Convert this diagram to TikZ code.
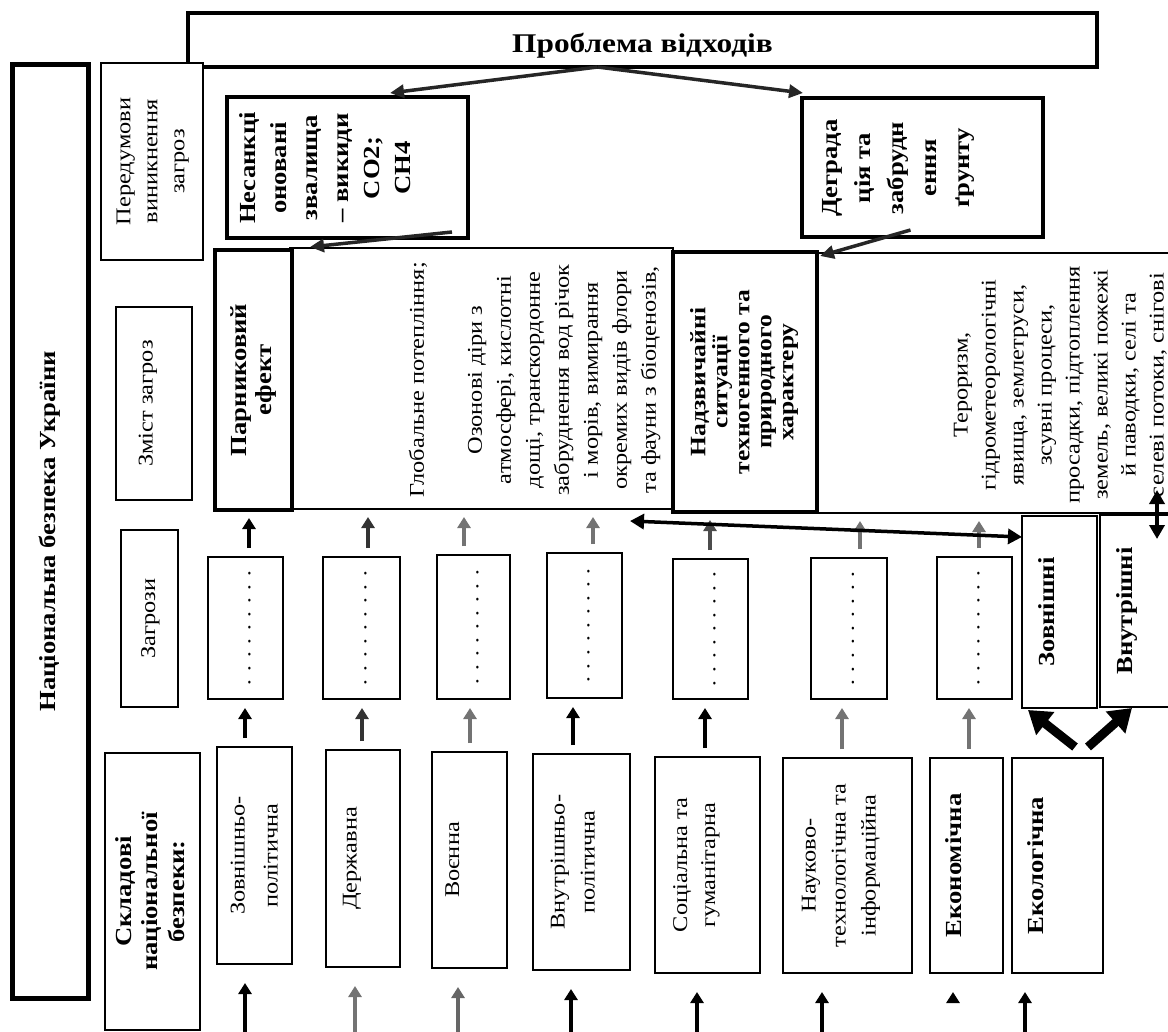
\documentclass[tikz,border=0pt]{standalone}
\usepackage{fontspec}
\setmainfont[FakeStretch=1.16]{Liberation Serif}
\usetikzlibrary{arrows.meta,calc}
\newcommand{\vt}[1]{\rotatebox{90}{\begin{tabular}{@{}c@{}}#1\end{tabular}}}
\newcommand{\pad}[1]{\rule{#1}{0pt}}
\begin{document}
\begin{tikzpicture}[x=1pt,y=-1pt,
  every node/.style={inner sep=0pt, outer sep=0pt},
  sz/.style 2 args={minimum width=#1pt, minimum height=#2pt},
  thinbox/.style={draw=black, line width=1.8pt, fill=white, anchor=north west},
  thickbox/.style={draw=black, line width=4.5pt, fill=white, anchor=north west},
  nf/.style={font=\fontsize{21}{28}\selectfont},
  bf/.style={font=\fontsize{23}{27}\selectfont\bfseries},
  arr/.style={-{Triangle[length=11pt,width=13pt]}, line width=3.5pt},
  conn/.style={-{Triangle[length=14pt,width=13pt]}, line width=3.5pt, draw=black!85},
  bigarr/.style={-{Triangle[length=22pt,width=28pt]}, line width=9pt, draw=black},
  dbl/.style={{Triangle[length=14pt,width=15pt]}-{Triangle[length=14pt,width=15pt]}, line width=3.5pt, draw=black}
]
\useasboundingbox (0,0) rectangle (1168,1032);
\clip (0,0) rectangle (1168,1032);
\fill[white] (0,0) rectangle (1168,1032);

% left column
\node[thickbox, line width=5pt, sz={76}{933}, font=\fontsize{23}{28}\selectfont\bfseries] (nb) at (12,65) {\vt{Національна безпека України}};

% top problem box
\node[thickbox, sz={909}{54}, font=\fontsize{27}{30}\selectfont\bfseries] (prob) at (188,13) {\raisebox{-13pt}[0pt][0pt]{Проблема відходів}};

% row labels
\node[thinbox, sz={102}{197}, font=\fontsize{21}{27}\selectfont] (pered) at (101,63) {\vt{Передумови\\виникнення\\загроз}};
\node[thinbox, sz={76}{193}, nf] (zmist) at (116,307) {\vt{Зміст загроз}\pad{14pt}};
\node[thinbox, sz={57}{177}, nf] (zagr) at (121,530) {\vt{Загрози}};
\node[thinbox, sz={95}{277}, font=\fontsize{23}{26.5}\selectfont\bfseries] (sklad) at (105,753) {\vt{Складові\\національної\\безпеки:}};

% causes
\node[thickbox, sz={241}{141}] (nes) at (227,97) {};
\node[font=\fontsize{23}{31}\selectfont\bfseries] (nestxt) at (327,168) {\vt{Несанкці\\оновані\\звалища\\– викиди\\CO2;\\CH4}};
\node[thickbox, sz={241}{139}] (deg) at (802,98) {};
\node[font=\fontsize{23}{33}\selectfont\bfseries] (degtxt) at (897,168) {\vt{Деграда\\ція та\\забрудн\\ення\\ґрунту}};

% content containers
\node[thinbox, line width=1.5pt, sz={383}{261}] (cont1) at (290,248) {};
\node[thinbox, line width=1.5pt, sz={360}{260}] (cont2) at (817,253) {};
\node[font=\fontsize{21}{29}\selectfont] (globtxt) at (534,380) {\vt{Глобальне потепління;\\ \\Озонові діри з\\атмосфері, кислотні\\дощі, транскордонне\\забруднення вод річок\\і морів, вимирання\\окремих видів флори\\та фауни з біоценозів,}};
\node[font=\fontsize{21}{28}\selectfont] (tertxt) at (1060,385) {\vt{Тероризм,\\гідрометеорологічні\\явища, землетруси,\\зсувні процеси,\\просадки, підтоплення\\земель, великі пожежі\\й паводки, селі та\\селеві потоки, снігові}};
\node[thickbox, sz={77}{260}, font=\fontsize{23}{25}\selectfont\bfseries] (parn) at (215,250) {\vt{Парниковий\\ефект}};
\node[thickbox, sz={144}{260}, font=\fontsize{22}{22}\selectfont\bfseries] (nadz) at (673,252) {\vt{Надзвичайні\\ситуації\\техногенного та\\природного\\характеру}};

% threats
\node[thinbox, sz={75}{142}, font=\fontsize{20}{24}\selectfont] (t1) at (208,557) {\vt{. . . . . . . . .}};
\node[thinbox, sz={77}{142}, font=\fontsize{20}{24}\selectfont] (t2) at (323,557) {\vt{. . . . . . . . .}};
\node[thinbox, sz={73}{144}, font=\fontsize{20}{24}\selectfont] (t3) at (437,555) {\vt{. . . . . . . . .}};
\node[thinbox, sz={75}{145}, font=\fontsize{20}{24}\selectfont] (t4) at (547,553) {\vt{. . . . . . . . .}};
\node[thinbox, sz={75}{140}, font=\fontsize{20}{24}\selectfont] (t5) at (673,559) {\vt{. . . . . . . . .}};
\node[thinbox, sz={76}{141}, font=\fontsize{20}{24}\selectfont] (t6) at (811,558) {\vt{. . . . . . . . .}};
\node[thinbox, sz={75}{142}, font=\fontsize{20}{24}\selectfont] (t7) at (937,557) {\vt{. . . . . . . . .}};
\node[thinbox, line width=2.2pt, sz={75}{192}, bf] (zovn) at (1022,516) {\vt{Зовнішні}\pad{20pt}};
\node[thinbox, line width=2.2pt, sz={90}{192}] (vnut) at (1100,515) {};
\node[bf] (vnuttxt) at (1127,611) {\vt{Внутрішні}};

% components
\node[thinbox, sz={75}{217}, font=\fontsize{21}{33}\selectfont] (c1) at (217,747) {\vt{Зовнішньо-\\політична}};
\node[thinbox, sz={74}{217}, nf] (c2) at (326,750) {\vt{Державна}\pad{24pt}};
\node[thinbox, sz={75}{216}, nf] (c3) at (432,752) {\vt{Воєнна}\pad{32pt}};
\node[thinbox, sz={97}{216}, font=\fontsize{21}{30}\selectfont] (c4) at (533,754) {\vt{Внутрішньо-\\політична}\pad{16pt}};
\node[thinbox, sz={105}{216}, font=\fontsize{21}{28}\selectfont] (c5) at (655,757) {\vt{Соціальна та\\гуманітарна}\pad{24pt}};
\node[thinbox, sz={129}{215}, font=\fontsize{21}{30}\selectfont] (c6) at (783,758) {\vt{Науково-\\технологічна та\\інформаційна}\pad{16pt}};
\node[thinbox, sz={73}{215}, bf] (c7) at (930,758) {\vt{Економічна}\pad{20pt}};
\node[thinbox, sz={91}{215}, bf] (c8) at (1012,758) {\vt{Екологічна}\pad{38pt}};

% bottom arrows
\foreach \n/\x/\c in {1/245/black, 2/355/black!55, 3/458/black!60, 4/571/black, 5/697/black, 6/822/black, 8/1025/black} {
  \coordinate (b\n) at (\x,1036);
  \draw[arr, draw=\c, shorten >=19pt] (b\n) -- (b\n |- c\n.south);
}
\coordinate (b7) at (953,1001);
\draw[arr, shorten >=19pt] (b7) -- (b7 |- c7.south);

% components -> threats
\foreach \n/\x/\c in {1/245/black, 2/362/black!80, 3/470/black!55, 4/573/black, 5/705/black, 6/842/black!55, 7/969/black!55} {
  \coordinate (m\n) at (\x,0);
  \draw[arr, draw=\c, shorten <=9pt, shorten >=9pt] (m\n |- c\n.north) -- (m\n |- t\n.south);
}

% threats -> content
\foreach \n/\x/\c/\tg in {1/249/black/parn, 2/368/black!80/cont1, 3/464/black!55/cont1, 4/593/black!55/cont1, 5/710/black!70/nadz, 6/860/black!55/cont2, 7/979/black!55/cont2} {
  \coordinate (u\n) at (\x,0);
  \draw[arr, draw=\c, shorten <=9pt, shorten >=8pt] (u\n |- t\n.north) -- (u\n |- \tg.south);
}

% horizontal double arrow
\coordinate (hl) at (630,521);
\draw[dbl] (hl) -- ($(zovn.north west)+(0,21)$);

% vertical double arrow
\coordinate (vd1) at (1157,490);
\coordinate (vd2) at (1157,539);
\draw[dbl] (vd1) -- (vd2);

% top connectors
\draw[conn] ($(prob.south)+(-45,0)$) -- ($(nes.north east)+(-78,-4)$);
\draw[conn] ($(prob.south)+(-45,0)$) -- ($(deg.north west)+(1,-5)$);
\draw[conn] ($(nes.south east)+(-16,-6)$) -- ($(parn.north east)+(18,-3)$);
\draw[conn] ($(deg.south)+(-12,-7)$) -- ($(nadz.north east)+(3,4)$);

% big arrows to external / internal
\coordinate (g1) at (1075,747);
\draw[bigarr] (g1) -- ($(zovn.south west)+(6,2)$);
\coordinate (g2) at (1088,747);
\draw[bigarr] (g2) -- ($(vnut.south west)+(32,1)$);
\end{tikzpicture}
\end{document}
